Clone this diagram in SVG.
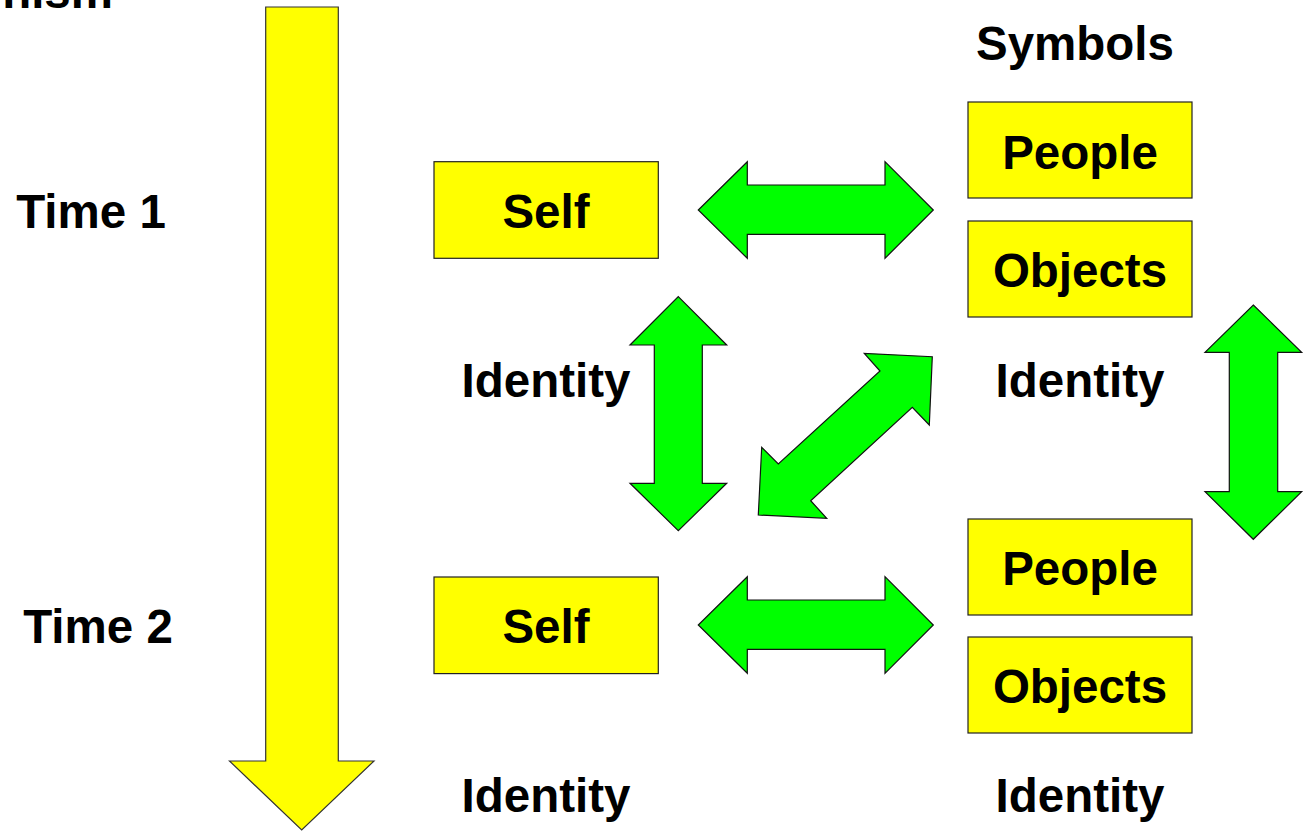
<svg xmlns="http://www.w3.org/2000/svg" width="1305" height="832" viewBox="0 0 1305 832">
<style>
.box{fill:#FFFF00;stroke:#222;stroke-width:1.2}
.garrow{fill:#00FF00;stroke:#111;stroke-width:1.2;stroke-linejoin:miter}
.yarrow{fill:#FFFF00;stroke:#333;stroke-width:1.2}
text{font-family:"Liberation Sans",Arial,sans-serif;font-weight:bold;font-size:47.5px;fill:#000}
.c{text-anchor:middle}
</style>
<rect width="1305" height="832" fill="#fff"/>
<text x="113" y="8" text-anchor="end">nism</text>
<g id="timeline">
<polygon class="yarrow" points="265.7,7 338.3,7 338.3,761 374,761 301.7,830 229.5,761 265.7,761"/>
</g>
<g id="time1"><text x="91" y="228" class="c">Time 1</text></g>
<g id="time2"><text x="98" y="643" class="c">Time 2</text></g>
<g id="symbols"><text x="1075" y="60" class="c">Symbols</text></g>
<g id="self1"><rect class="box" x="434" y="161.7" width="224.3" height="96.6"/><text x="546" y="228" class="c">Self</text></g>
<g id="people1"><rect class="box" x="968" y="102" width="224" height="96"/><text x="1080" y="169" class="c">People</text></g>
<g id="objects1"><rect class="box" x="968" y="221" width="224" height="96"/><text x="1080" y="287" class="c">Objects</text></g>
<g id="self2"><rect class="box" x="434" y="577" width="224.3" height="96.6"/><text x="546" y="643" class="c">Self</text></g>
<g id="people2"><rect class="box" x="968" y="519" width="224" height="96"/><text x="1080" y="585" class="c">People</text></g>
<g id="objects2"><rect class="box" x="968" y="637" width="224" height="96"/><text x="1080" y="703" class="c">Objects</text></g>
<g id="identity-self1"><text x="546" y="397" class="c">Identity</text></g>
<g id="identity-sym1"><text x="1080" y="397" class="c">Identity</text></g>
<g id="identity-self2"><text x="546" y="812" class="c">Identity</text></g>
<g id="identity-sym2"><text x="1080" y="812" class="c">Identity</text></g>
<g id="connectors">
<polygon class="garrow" points="698.3,210 747.3,161.7 747.3,185 885,185 885,161.7 933.3,210 885,258.3 885,234.3 747.3,234.3 747.3,258.3"/>
<polygon class="garrow" points="698.3,625 747.3,576.7 747.3,600 885,600 885,576.7 933.3,625 885,673.3 885,649.3 747.3,649.3 747.3,673.3"/>
<polygon class="garrow" points="678.3,296.7 726.7,345 702.3,345 702.3,483.3 726.7,483.3 678.3,530.7 630,483.3 654.3,483.3 654.3,345 630,345"/>
<polygon class="garrow" points="1253.3,305 1301.7,352.3 1277.7,352.3 1277.7,491.7 1301.7,491.7 1253.3,539.3 1205,491.7 1229.3,491.7 1229.3,352.3 1205,352.3"/>
<polygon class="garrow" points="932.3,356.7 929.3,425 912.3,407.3 810.7,500.7 826.7,518.3 758.3,515 761.7,447.3 778.3,464 880,371 864.3,353.3"/>
</g>
</svg>
